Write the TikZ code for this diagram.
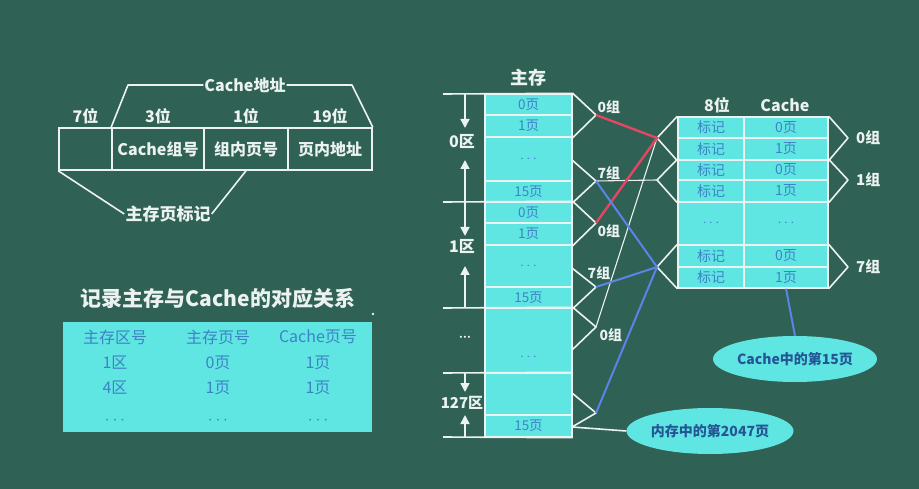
\documentclass[tikz,border=0pt]{standalone}
\usepackage{fontspec}
\setmainfont{Noto Sans CJK SC}
\usetikzlibrary{arrows.meta,positioning,shapes.geometric}

\definecolor{board}{RGB}{47,97,85}
\definecolor{cellfill}{RGB}{96,230,226}
\definecolor{celltext}{RGB}{62,130,198}
\definecolor{linkred}{RGB}{228,70,100}
\definecolor{linkblue}{RGB}{92,132,232}
\definecolor{chalk}{RGB}{236,242,240}
\definecolor{ovaltext}{RGB}{36,86,150}

\begin{document}
\begin{tikzpicture}[x=1pt,y=-1pt,
  wline/.style={draw=chalk,line width=1.6pt,line join=round},
  thin link/.style={draw=chalk,line width=1.1pt},
  red link/.style={draw=linkred,line width=2.4pt},
  blue link/.style={draw=linkblue,line width=2pt},
  regarrow/.style={draw=chalk,line width=1.6pt,-{Triangle[length=9pt,width=9pt]}},
  chalktext/.style={text=chalk,inner sep=1pt,font=\bfseries\fontsize{#1}{#1}\selectfont},
  chalktext/.default=14,
  field/.style={rectangle,draw=chalk,line width=1.6pt,minimum height=42pt,inner sep=0pt,
    text=chalk,font=\bfseries\fontsize{16}{18}\selectfont},
  memcell/.style={rectangle,draw=chalk,fill=cellfill,line width=1.4pt,minimum width=87pt,
    inner sep=0pt,text=celltext,font=\fontsize{13.5}{15}\selectfont},
  tagcell/.style={rectangle,draw=chalk,fill=cellfill,line width=1.4pt,minimum width=66pt,
    inner sep=0pt,text=celltext,font=\fontsize{14}{15}\selectfont},
  pagecell/.style={tagcell,minimum width=84pt},
  grouplabel/.style={chalktext=14,inner sep=1.5pt},
  tabtext/.style={text=celltext,font=\fontsize{16}{18}\selectfont},
  oval/.style={ellipse,fill=cellfill,minimum width=155pt,minimum height=46pt,inner sep=0pt,
    text=ovaltext,font=\bfseries\fontsize{14}{16}\selectfont}]

  % board
  \fill[board] (0,0) rectangle (919,489);
  \useasboundingbox (0,0) rectangle (919,489);

  % address format
  \node[field,minimum width=53pt] (a0) at (85.5,149) {};
  \node[field,minimum width=92pt] (a1) at (158,149) {Cache组号};
  \node[field,minimum width=84pt] (a2) at (246,149) {组内页号};
  \node[field,minimum width=84pt] (a3) at (330,149) {页内地址};
  \node[chalktext=16,above=2pt of a0] (b0) {7位};
  \node[chalktext=16,above=2pt of a1] (b1) {3位};
  \node[chalktext=16,above=2pt of a2] (b2) {1位};
  \node[chalktext=16,above=2pt of a3] (b3) {19位};
  \node[chalktext=16] (caddr) at (245,85) {Cache地址};
  \coordinate (cl) at (128,85);
  \coordinate (cr) at (352,85);
  \draw[wline] (a1.north west) -- (cl) -- (caddr.west);
  \draw[wline] (caddr.east) -- (cr) -- (a3.north east);
  \node[chalktext=17] (ptag) at (168,214) {主存页标记};
  \draw[wline] (a0.south west) -- (ptag.west);
  \draw[wline] (ptag.east) -- (a2.south);

  % record table
  \node[chalktext=21] (title) at (218,298) {记录主存与Cache的对应关系};
  \fill[chalk] (373,314) circle (1.3pt);
  \node[rectangle,fill=cellfill,minimum width=309pt,minimum height=110pt,inner sep=0pt] (rec) at (217.5,377) {};
  \node[tabtext] (h1) at (115,337) {主存区号};
  \node[tabtext] (h2) at (218,337) {主存页号};
  \node[tabtext] (h3) at (318,337) {Cache页号};
  \node[tabtext] (r11) at (115,363) {1区};
  \node[tabtext] (r12) at (218,363) {0页};
  \node[tabtext] (r13) at (318,363) {1页};
  \node[tabtext] (r21) at (115,388) {4区};
  \node[tabtext] (r22) at (218,388) {1页};
  \node[tabtext] (r23) at (318,388) {1页};
  \node[tabtext] (r31) at (115,421) {$\cdots$};
  \node[tabtext] (r32) at (218,421) {$\cdots$};
  \node[tabtext] (r33) at (318,421) {$\cdots$};

  % main memory
  \node[memcell,minimum height=21pt] (m0) at (528.5,104.5) {0页};
  \node[memcell,minimum height=22pt] (m1) at (528.5,126) {1页};
  \node[memcell,minimum height=44pt] (m2) at (528.5,159) {$\cdots$};
  \node[memcell,minimum height=21pt] (m3) at (528.5,191.5) {15页};
  \node[memcell,minimum height=21pt] (m4) at (528.5,212.5) {0页};
  \node[memcell,minimum height=22pt] (m5) at (528.5,234) {1页};
  \node[memcell,minimum height=42pt] (m6) at (528.5,266) {$\cdots$};
  \node[memcell,minimum height=21pt] (m7) at (528.5,297.5) {15页};
  \node[memcell,minimum height=65pt] (m8) at (528.5,340.5) {};
  \node[text=celltext,font=\fontsize{13.5}{15}\selectfont] (m8dots) at (528.5,357) {$\cdots$};
  \node[memcell,minimum height=42pt] (m9) at (528.5,394) {};
  \node[memcell,minimum height=22pt] (m10) at (528.5,426) {15页};
  \node[chalktext=18,above=6pt of m0] (mainlbl) {主存};

  % regions
  \coordinate (l0) at (443,94);
  \coordinate (l1) at (443,202);
  \coordinate (l2) at (443,308);
  \coordinate (l3) at (443,373);
  \coordinate (l4) at (443,437);
  \draw[wline] (l0) -- (m0.north east);
  \draw[wline] (l1) -- (m4.north east);
  \draw[wline] (l2) -- (m8.north east);
  \draw[wline] (l3) -- (m9.north east);
  \draw[wline] (l4) -- (m10.south east);
  \node[chalktext=16] (z0) at (462,142) {0区};
  \node[chalktext=16] (z1) at (462,247) {1区};
  \node[chalktext=22] (zx) at (465,338) {${\cdot}\mkern-1.5mu{\cdot}\mkern-1.5mu{\cdot}$};
  \node[chalktext=15] (z127) at (462,403) {127区};
  \coordinate (u0) at (465,94);   \coordinate (d0) at (465,128);
  \coordinate (u1) at (465,202);  \coordinate (e0) at (465,160);
  \coordinate (d1) at (465,236);
  \coordinate (u2) at (465,308);  \coordinate (e1) at (465,266);
  \coordinate (u3) at (465,373);  \coordinate (d3) at (465,392);
  \coordinate (u4) at (465,437);  \coordinate (e3) at (465,415);
  \draw[regarrow] (u0) -- (d0);
  \draw[regarrow] (u1) -- (e0);
  \draw[regarrow] (u1) -- (d1);
  \draw[regarrow] (u2) -- (e1);
  \draw[regarrow] (u3) -- (d3);
  \draw[regarrow] (u4) -- (e3);

  % memory groups
  \coordinate (mg00) at (596,115);
  \coordinate (mg07) at (596,181);
  \coordinate (mg10) at (596,223);
  \coordinate (mg17) at (596,287);
  \coordinate (mgx0) at (596,327);
  \coordinate (mgz7) at (596,413);
  \coordinate (p07) at (572,160);
  \coordinate (p17) at (572,268);
  \coordinate (px0) at (572,350);
  \coordinate (pz7) at (572,393);
  \coordinate (pz7b) at (572,427);
  \draw[wline] (m0.north east) -- (mg00) -- (m1.south east);
  \draw[wline] (p07) -- (mg07) -- (m3.south east);
  \draw[wline] (m4.north east) -- (mg10) -- (m5.south east);
  \draw[wline] (p17) -- (mg17) -- (m7.south east);
  \draw[wline] (m8.north east) -- (mgx0) -- (px0);
  \draw[wline] (pz7) -- (mgz7) -- (pz7b);
  \node[grouplabel,anchor=south west] (g00) at (mg00) {0组};
  \node[grouplabel,anchor=south west] (g07) at (mg07) {7组};
  \node[grouplabel,anchor=north west] (g10) at (mg10) {0组};
  \node[grouplabel,above=6pt of mg17,xshift=3pt] (g17) {7组};
  \node[grouplabel,anchor=north west,xshift=2pt] (gx0) at (mgx0) {0组};

  % cache
  \node[tagcell,minimum height=21pt] (t0) at (711,127.5) {标记};
  \node[pagecell,minimum height=21pt] (p0) at (786,127.5) {0页};
  \node[tagcell,minimum height=22pt] (t1) at (711,149) {标记};
  \node[pagecell,minimum height=22pt] (p1) at (786,149) {1页};
  \node[tagcell,minimum height=20pt] (t2) at (711,170) {标记};
  \node[pagecell,minimum height=20pt] (p2) at (786,170) {0页};
  \node[tagcell,minimum height=22pt] (t3) at (711,191) {标记};
  \node[pagecell,minimum height=22pt] (p3) at (786,191) {1页};
  \node[tagcell,minimum height=43pt] (t4) at (711,223.5) {$\cdots$};
  \node[pagecell,minimum height=43pt] (p4) at (786,223.5) {$\cdots$};
  \node[tagcell,minimum height=22pt] (t5) at (711,256) {标记};
  \node[pagecell,minimum height=22pt] (p5) at (786,256) {0页};
  \node[tagcell,minimum height=21pt] (t6) at (711,277.5) {标记};
  \node[pagecell,minimum height=21pt] (p6) at (786,277.5) {1页};
  \node[chalktext=16] (bits8) at (717,105) {8位};
  \node[chalktext=16] (cachelbl) at (785,105) {Cache};

  % cache groups
  \coordinate (cg0) at (657,138);
  \coordinate (cg1) at (657,180);
  \coordinate (cg7) at (657,267);
  \coordinate (rg0) at (848,138);
  \coordinate (rg1) at (848,180);
  \coordinate (rg7) at (848,267);
  \draw[wline] (t0.north west) -- (cg0) -- (t1.south west);
  \draw[wline] (t2.north west) -- (cg1) -- (t3.south west);
  \draw[wline] (t5.north west) -- (cg7) -- (t6.south west);
  \draw[wline] (p0.north east) -- (rg0) -- (p1.south east);
  \draw[wline] (p2.north east) -- (rg1) -- (p3.south east);
  \draw[wline] (p5.north east) -- (rg7) -- (p6.south east);
  \node[chalktext=15,right=7pt of rg0] (k0) {0组};
  \node[chalktext=15,right=7pt of rg1] (k1) {1组};
  \node[chalktext=15,right=7pt of rg7] (k7) {7组};

  % mapping links
  \draw[thin link] (mg07) -- (cg1);
  \draw[thin link] (cg0) -- (mgx0);
  \draw[red link] (mg00) -- (cg0) -- (mg10);
  \draw[blue link] (mg07) -- (cg7);
  \draw[blue link] (mg17) -- (cg7);
  \draw[blue link] (cg7) -- (mgz7);

  % notes
  \node[oval] (cache15) at (795,359) {Cache中的第15页};
  \node[oval] (mem2047) at (710,431) {内存中的第2047页};
  \draw[blue link] (p6.south) -- (cache15.north);
  \draw[wline] (pz7b) -- (mem2047.west);
\end{tikzpicture}
\end{document}
